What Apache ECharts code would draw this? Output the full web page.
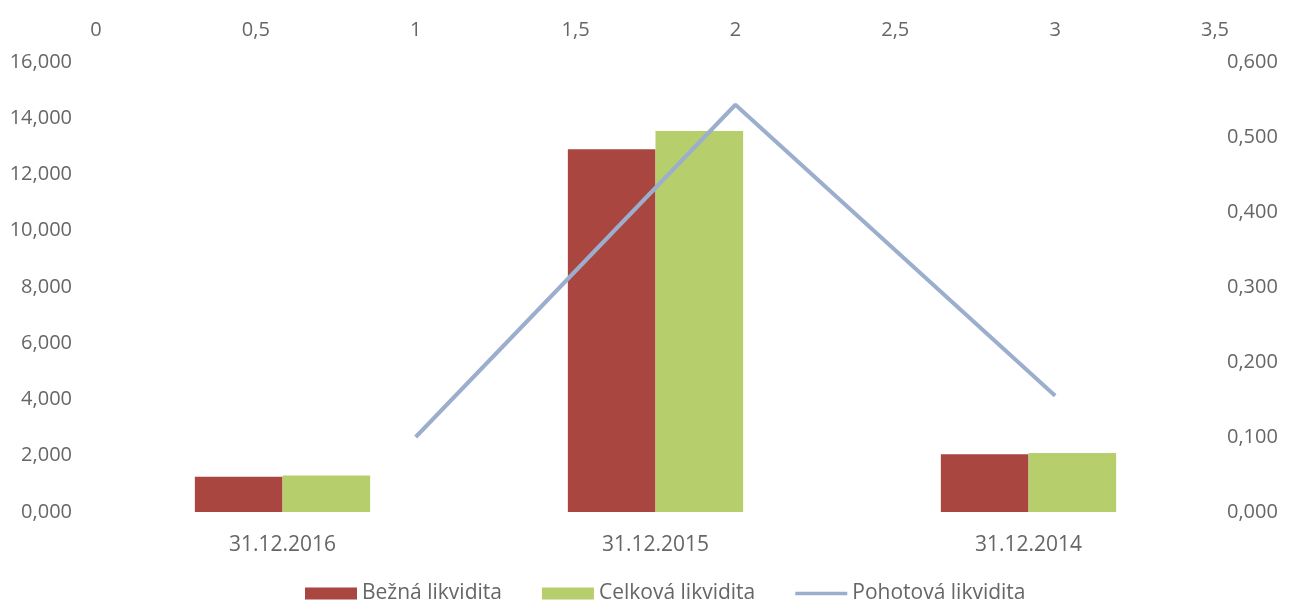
<!DOCTYPE html>
<html><head><meta charset="utf-8">
<script src="https://cdn.jsdelivr.net/npm/echarts@6/dist/echarts.min.js"></script>
<style>html,body{margin:0;padding:0;background:#fff}#c{width:1292px;height:602px}</style>
</head><body><div id="c"></div>
<script>
const categories = ['31.12.2016', '31.12.2015', '31.12.2014'];
const beznaLikvidita = [1.25, 12.9, 2.05];
const celkovaLikvidita = [1.3, 13.55, 2.1];
const pohotovaX = [1, 2, 3];
const pohotovaLikvidita = [0.1, 0.543, 0.155];
const seriesNames = ['Bežná likvidita', 'Celková likvidita', 'Pohotová likvidita'];

const txt = { color: '#666666', fontFamily: 'Open Sans', fontSize: 20 };
const chart = echarts.init(document.getElementById('c'), null, { renderer: 'canvas' });
chart.setOption({
  animation: false,
  backgroundColor: '#fff',
  grid: { left: 96, right: 77, top: 62, bottom: 90 },
  legend: {
    top: 578, left: 300, itemGap: 40, itemWidth: 52, itemHeight: 12,
    textStyle: Object.assign({}, txt, { fontSize: 21 }),
    data: [
      { name: seriesNames[0], icon: 'rect' },
      { name: seriesNames[1], icon: 'rect' },
      { name: seriesNames[2], icon: 'path://M0,0H60V4H0Z' }
    ]
  },
  xAxis: [
    { type: 'category', data: categories, position: 'bottom',
      axisLine: { show: false }, axisTick: { show: false },
      axisLabel: Object.assign({}, txt, { margin: 23, fontSize: 21 }) },
    { type: 'value', position: 'top', min: 0, max: 3.5, interval: 0.5,
      axisLine: { show: false }, axisTick: { show: false }, splitLine: { show: false },
      axisLabel: Object.assign({}, txt, { margin: 22, showMaxLabel: true,
        formatter: v => String(v).replace('.', ',') }) }
  ],
  yAxis: [
    { type: 'value', min: 0, max: 16, interval: 2,
      axisLine: { show: false }, axisTick: { show: false },
      splitLine: { show: false },
      axisLabel: Object.assign({}, txt, { margin: 24, formatter: v => v.toFixed(3).replace('.', ',') }) },
    { type: 'value', min: 0, max: 0.6, interval: 0.1, position: 'right',
      axisLine: { show: false }, axisTick: { show: false }, splitLine: { show: false },
      axisLabel: Object.assign({}, txt, { margin: 12, formatter: v => v.toFixed(3).replace('.', ',') }) }
  ],
  series: [
    { name: seriesNames[0], type: 'bar', data: beznaLikvidita, barGap: 0, barCategoryGap: '53%',
      itemStyle: { color: '#a9463f' } },
    { name: seriesNames[1], type: 'bar', data: celkovaLikvidita, barGap: 0, barCategoryGap: '53%',
      itemStyle: { color: '#b6ce6c' } },
    { name: seriesNames[2], type: 'line', xAxisIndex: 1, yAxisIndex: 1,
      data: pohotovaX.map((x, i) => [x, pohotovaLikvidita[i]]),
      showSymbol: false, symbol: 'none',
      lineStyle: { color: '#9caecd', width: 4 }, itemStyle: { color: '#9caecd' } }
  ]
});
</script>
</body></html>
